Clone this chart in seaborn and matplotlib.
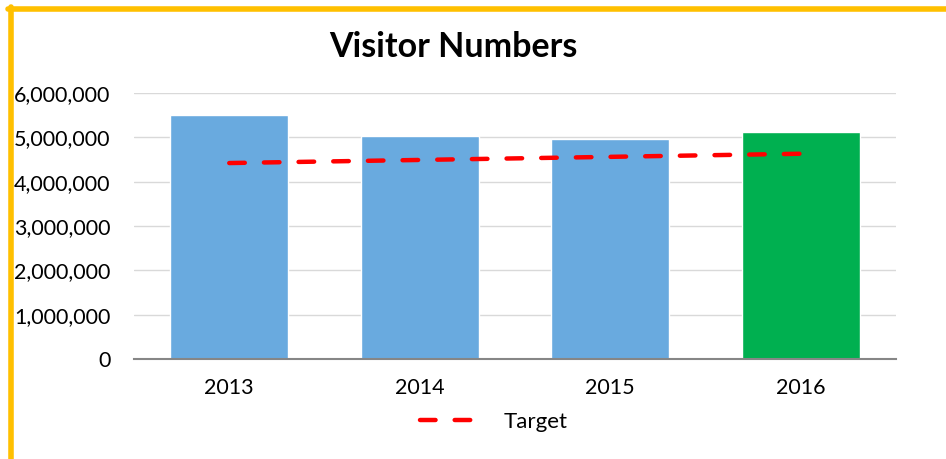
import numpy as np
import matplotlib
matplotlib.use("Agg")
import matplotlib.pyplot as plt
import seaborn as sns
from matplotlib.lines import Line2D
from matplotlib.ticker import FuncFormatter

# data
years = ["2013", "2014", "2015", "2016"]
visitors = [5510000, 5030000, 4970000, 5120000]
target = [4420000, 4490000, 4560000, 4630000]
bar_colors = ["#69AADF", "#69AADF", "#69AADF", "#00B050"]

sns.set_theme(style="white")
plt.rcParams["font.family"] = ["Lato", "DejaVu Sans"]
plt.rcParams["text.color"] = "black"

fig = plt.figure(figsize=(9.46, 4.59), dpi=100)
ax = fig.add_axes([134 / 946, 1 - 359 / 459, 762 / 946, 266 / 459])

sns.barplot(x=years, y=visitors, hue=years, palette=bar_colors, width=0.62,
            legend=False, saturation=1, ax=ax, zorder=2)
sns.lineplot(x=np.arange(len(years)), y=target, color="#FF0000", lw=3.2,
             ax=ax, zorder=3)
line = ax.lines[-1]
line.set_dashes((3.5, 4.3))
line.set_dash_capstyle("round")

ax.set_xlim(-0.5, 3.5)
ax.set_ylim(0, 6000000)
ax.set_yticks(np.arange(0, 6000001, 1000000))
ax.yaxis.set_major_formatter(FuncFormatter(lambda v, p: f"{int(v):,}"))
ax.grid(axis="y", color="#D9D9D9", lw=1, zorder=0)
ax.set_axisbelow(True)
for s in ["top", "right", "left"]:
    ax.spines[s].set_visible(False)
ax.spines["bottom"].set_color("#868686")
ax.spines["bottom"].set_linewidth(1.5)
ax.tick_params(axis="y", length=0, pad=17, labelsize=15.5, labelcolor="black")
ax.tick_params(axis="x", length=0, pad=14, labelsize=15.5, labelcolor="black")
ax.set_xlabel("")
ax.set_ylabel("")

fig.text(0.479, 1 - 47 / 459, "Visitor Numbers", ha="center", va="center",
         fontsize=24.5, fontweight="bold", color="black")

handle = Line2D([0], [0], color="#FF0000", lw=3.2, dashes=(3.5, 4.3),
                dash_capstyle="round")
fig.legend([handle], ["Target"], loc="center", bbox_to_anchor=(0.522, 1 - 422 / 459),
           frameon=False, fontsize=16, handlelength=3.0, handletextpad=0.8,
           labelcolor="black")

# orange frame on top and left
fig.add_artist(Line2D([8 / 946, 1], [1 - 8.5 / 459, 1 - 8.5 / 459],
                      transform=fig.transFigure, color="#FFC000", lw=4))
fig.add_artist(Line2D([11 / 946, 11 / 946], [0, 1 - 6.5 / 459],
                      transform=fig.transFigure, color="#FFC000", lw=4))

fig.savefig("out.png", dpi=100)
